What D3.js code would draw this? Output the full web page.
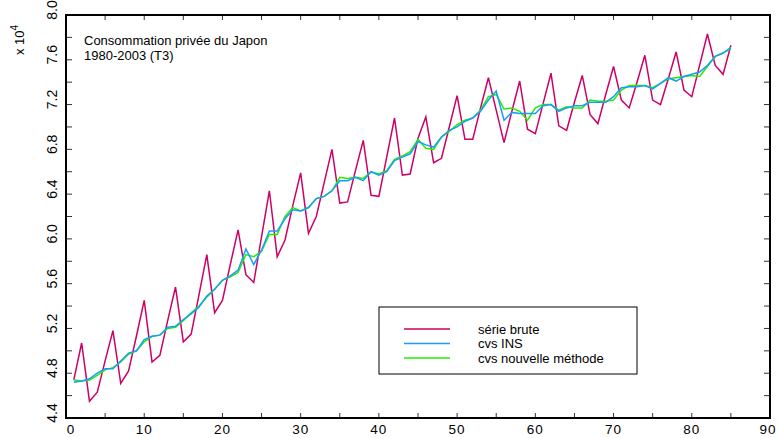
<!DOCTYPE html>
<html>
<head>
<meta charset="utf-8">
<script src="https://cdn.jsdelivr.net/npm/d3@7"></script>
<style>
  body { margin: 0; background: #fff; }
  svg { display: block; font-family: "Liberation Sans", Arial, sans-serif; }
</style>
</head>
<body>
<div id="chart"></div>
<script>
// valeurs en 10^4
const brute = [4.74, 5.07, 4.55, 4.63, 4.91, 5.18, 4.71, 4.82, 5.13, 5.45,
  4.90, 4.96, 5.27, 5.57, 5.08, 5.15, 5.50, 5.86, 5.34, 5.45,
  5.77, 6.08, 5.68, 5.61, 6.02, 6.43, 5.84, 5.99, 6.30, 6.59,
  6.05, 6.20, 6.50, 6.80, 6.32, 6.33, 6.61, 6.88, 6.39, 6.38,
  6.73, 7.08, 6.57, 6.58, 6.90, 7.09, 6.68, 6.72, 7.00, 7.28,
  6.89, 6.89, 7.17, 7.44, 7.15, 6.86, 7.14, 7.41, 6.98, 6.94,
  7.21, 7.48, 7.01, 6.97, 7.22, 7.46, 7.11, 7.03, 7.29, 7.54,
  7.24, 7.17, 7.40, 7.64, 7.24, 7.20, 7.43, 7.67, 7.33, 7.27,
  7.55, 7.83, 7.55, 7.47, 7.73];

const cvsINS = [4.72, 4.73, 4.75, 4.80, 4.84, 4.84, 4.91, 4.98, 5.00, 5.10,
  5.13, 5.14, 5.21, 5.22, 5.28, 5.33, 5.39, 5.49, 5.55, 5.63,
  5.67, 5.72, 5.91, 5.77, 5.90, 6.07, 6.07, 6.18, 6.26, 6.25,
  6.28, 6.36, 6.38, 6.43, 6.52, 6.52, 6.55, 6.52, 6.60, 6.57,
  6.60, 6.70, 6.73, 6.76, 6.87, 6.84, 6.82, 6.91, 6.97, 7.00,
  7.05, 7.08, 7.14, 7.24, 7.32, 7.06, 7.13, 7.12, 7.12, 7.12,
  7.19, 7.20, 7.14, 7.17, 7.19, 7.19, 7.22, 7.22, 7.22, 7.27,
  7.35, 7.36, 7.36, 7.37, 7.34, 7.39, 7.44, 7.41, 7.45, 7.47,
  7.49, 7.55, 7.63, 7.66, 7.71];

const cvsNouv = [4.74, 4.73, 4.74, 4.78, 4.83, 4.85, 4.90, 4.97, 5.00, 5.08,
  5.13, 5.14, 5.20, 5.21, 5.27, 5.34, 5.40, 5.48, 5.55, 5.63,
  5.66, 5.70, 5.86, 5.84, 5.89, 6.04, 6.04, 6.20, 6.28, 6.25,
  6.28, 6.36, 6.38, 6.43, 6.55, 6.54, 6.55, 6.54, 6.60, 6.58,
  6.61, 6.71, 6.74, 6.78, 6.89, 6.81, 6.80, 6.91, 6.96, 7.02,
  7.06, 7.08, 7.15, 7.27, 7.29, 7.16, 7.17, 7.14, 7.06, 7.17,
  7.20, 7.20, 7.15, 7.18, 7.17, 7.17, 7.24, 7.23, 7.23, 7.24,
  7.33, 7.37, 7.37, 7.37, 7.35, 7.39, 7.43, 7.44, 7.45, 7.46,
  7.45, 7.54, 7.63, 7.66, 7.70];

const legendLabels = ["série brute", "cvs INS", "cvs nouvelle méthode"];
const xTicks = d3.range(0, 91, 10);
const yTicks = [4.4, 4.8, 5.2, 5.6, 6.0, 6.4, 6.8, 7.2, 7.6, 8.0];

const width = 780, height = 438;
const mLeft = 66, mRight = 770, mTop = 15, mBottom = 418;

const svg = d3.select("#chart").append("svg")
  .attr("width", width)
  .attr("height", height);

const x = d3.scaleLinear().domain([0, 90]).range([mLeft, mRight]);
const y = d3.scaleLinear().domain([4.4, 8.0]).range([mBottom, mTop]);

const tickCol = "#333";

// ticks inward on all four sides
const xAll = d3.range(0, 91, 5);
const yAll = d3.range(4.4, 8.01, 0.2);
svg.append("g").selectAll("line").data(xAll).join("line")
  .attr("x1", d => x(d)).attr("x2", d => x(d))
  .attr("y1", mBottom).attr("y2", mBottom - 5)
  .attr("stroke", tickCol);
svg.append("g").selectAll("line").data(xAll).join("line")
  .attr("x1", d => x(d)).attr("x2", d => x(d))
  .attr("y1", mTop).attr("y2", mTop + 5)
  .attr("stroke", tickCol);
svg.append("g").selectAll("line").data(yAll).join("line")
  .attr("x1", mLeft).attr("x2", mLeft + 6)
  .attr("y1", d => y(d)).attr("y2", d => y(d))
  .attr("stroke", tickCol);
svg.append("g").selectAll("line").data(yAll).join("line")
  .attr("x1", mRight).attr("x2", mRight - 6)
  .attr("y1", d => y(d)).attr("y2", d => y(d))
  .attr("stroke", tickCol);

// tick labels
svg.append("g").selectAll("text").data(xTicks).join("text")
  .attr("x", d => d === 0 ? x(d) + 5 : (d === 90 ? x(d) - 2 : x(d))).attr("y", 434)
  .attr("text-anchor", "middle")
  .attr("font-size", 13.5)
  .attr("letter-spacing", 1)
  .text(d => d);

svg.append("g").selectAll("text").data(yTicks).join("text")
  .attr("transform", d => `translate(57,${y(d) - 5}) rotate(-90)`)
  .attr("text-anchor", "middle")
  .attr("font-size", 14)
  .text(d => d.toFixed(1));

const expo = svg.append("text")
  .attr("transform", "translate(24,40) rotate(-90)")
  .attr("text-anchor", "middle")
  .attr("font-size", 13);
expo.append("tspan").text("x 10");
expo.append("tspan").attr("dy", -6).attr("font-size", 10).text("4");

// lines
const line = d3.line()
  .x((d, i) => x(i + 1))
  .y(d => y(d));

svg.append("path").datum(brute)
  .attr("fill", "none").attr("stroke", "#cc0066").attr("stroke-width", 1.5)
  .attr("d", line);
svg.append("path").datum(cvsNouv)
  .attr("fill", "none").attr("stroke", "#22ee00").attr("stroke-width", 1.5)
  .attr("d", line);
svg.append("path").datum(cvsINS)
  .attr("fill", "none").attr("stroke", "#1a9cff").attr("stroke-width", 1.5)
  .attr("d", line);

// frame
svg.append("rect")
  .attr("x", mLeft).attr("y", mTop)
  .attr("width", mRight - mLeft).attr("height", mBottom - mTop)
  .attr("fill", "none").attr("stroke", "#000").attr("stroke-width", 2);

// title
svg.append("text").attr("x", 84).attr("y", 45).attr("font-size", 13)
  .text("Consommation privée du Japon");
svg.append("text").attr("x", 84).attr("y", 60).attr("font-size", 13)
  .text("1980-2003 (T3)");

// legend
const colors = ["#cc0066", "#1a9cff", "#22ee00"];
const lg = svg.append("g");
lg.append("rect")
  .attr("x", 379).attr("y", 307).attr("width", 258).attr("height", 67)
  .attr("fill", "#fff").attr("stroke", "#000").attr("stroke-width", 1);
legendLabels.forEach((lab, i) => {
  const ly = 329 + i * 14.5;
  lg.append("line")
    .attr("x1", 404).attr("x2", 450).attr("y1", ly).attr("y2", ly)
    .attr("stroke", colors[i]).attr("stroke-width", 1.5);
  lg.append("text")
    .attr("x", 478).attr("y", ly + 4.5)
    .attr("font-size", 13)
    .text(lab);
});
</script>
</body>
</html>
